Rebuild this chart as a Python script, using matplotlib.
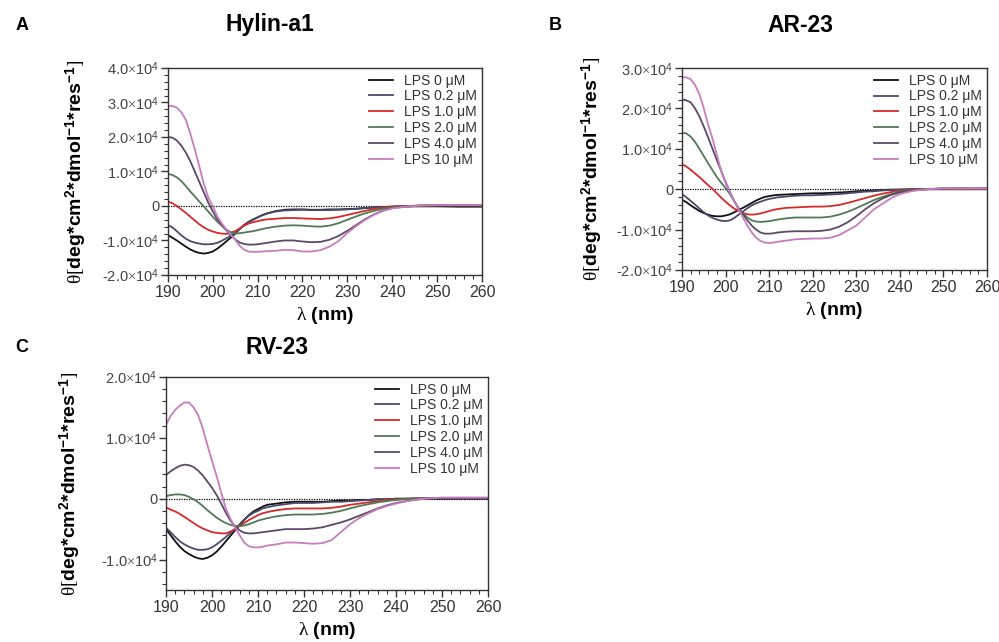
import numpy as np
import matplotlib
matplotlib.use('Agg')
from matplotlib import pyplot as plt
from matplotlib.ticker import MultipleLocator, FixedLocator

plt.rcParams['font.family'] = ['Liberation Sans', 'DejaVu Sans']
plt.rcParams['mathtext.fontset'] = 'custom'
plt.rcParams['mathtext.rm'] = 'Liberation Serif'
plt.rcParams['mathtext.it'] = 'Liberation Serif:italic'
plt.rcParams['mathtext.bf'] = 'Liberation Sans:bold'
plt.rcParams['mathtext.sf'] = 'Liberation Sans'

wl = [190, 191, 192, 193, 194, 195, 196, 197, 198, 199, 200, 201,
      202, 203, 204, 205, 206, 207, 208, 209, 210, 211, 212,
      214, 216, 218, 220, 222, 224, 226, 228, 230, 232, 234, 236, 238, 240,
      243, 246, 250, 255, 260]
labels = ['LPS 0 \u03bcM', 'LPS 0.2 \u03bcM', 'LPS 1.0 \u03bcM',
          'LPS 2.0 \u03bcM', 'LPS 4.0 \u03bcM', 'LPS 10 \u03bcM']
colors = ['#111111', '#4b4a6c', '#d42a2a', '#4f7a55', '#5a4a66', '#c77cc0']

# mean residue ellipticity, units of 1e4
hylin = [
    [-0.84, -0.92, -1.0, -1.09, -1.18, -1.26, -1.32, -1.36, -1.38, -1.36, -1.32, -1.24,
     -1.14, -1.03, -0.92, -0.8, -0.67, -0.55, -0.46, -0.39, -0.33, -0.27, -0.22,
     -0.15, -0.11, -0.1, -0.1, -0.11, -0.11, -0.1, -0.1, -0.09, -0.08, -0.06, -0.04, -0.03, -0.02,
     -0.01, -0.01, -0.01, -0.02, -0.02],
    [-0.55, -0.62, -0.73, -0.85, -0.95, -1.02, -1.06, -1.09, -1.11, -1.11, -1.1, -1.07,
     -1.01, -0.94, -0.86, -0.78, -0.67, -0.56, -0.47, -0.4, -0.33, -0.27, -0.22,
     -0.16, -0.13, -0.12, -0.11, -0.12, -0.12, -0.12, -0.11, -0.1, -0.08, -0.06, -0.04, -0.03, -0.02,
     -0.01, 0.0, 0.01, 0.01, 0.01],
    [0.13, 0.08, 0.0, -0.1, -0.2, -0.31, -0.42, -0.53, -0.62, -0.69, -0.74, -0.78,
     -0.8, -0.81, -0.78, -0.73, -0.65, -0.57, -0.51, -0.47, -0.44, -0.41, -0.39,
     -0.37, -0.35, -0.35, -0.36, -0.37, -0.38, -0.36, -0.32, -0.26, -0.2, -0.14, -0.09, -0.05, -0.02,
     0.0, 0.01, 0.02, 0.02, 0.02],
    [0.93, 0.9, 0.83, 0.72, 0.58, 0.42, 0.28, 0.13, -0.01, -0.16, -0.31, -0.45,
     -0.57, -0.68, -0.76, -0.8, -0.79, -0.77, -0.75, -0.73, -0.7, -0.67, -0.64,
     -0.6, -0.57, -0.56, -0.57, -0.59, -0.6, -0.57, -0.5, -0.4, -0.3, -0.21, -0.14, -0.08, -0.04,
     -0.01, 0.01, 0.02, 0.02, 0.02],
    [2.0, 1.98, 1.9, 1.75, 1.55, 1.3, 1.0, 0.7, 0.4, 0.1, -0.15, -0.38,
     -0.55, -0.7, -0.85, -0.97, -1.06, -1.1, -1.12, -1.12, -1.11, -1.09, -1.07,
     -1.03, -1.0, -1.0, -1.03, -1.05, -1.04, -0.98, -0.87, -0.72, -0.55, -0.38, -0.24, -0.13, -0.06,
     -0.02, 0.01, 0.02, 0.02, 0.02],
    [2.9, 2.9, 2.85, 2.72, 2.5, 2.1, 1.65, 1.15, 0.65, 0.25, 0.0, -0.3,
     -0.5, -0.68, -0.82, -0.98, -1.15, -1.27, -1.32, -1.33, -1.33, -1.32, -1.31,
     -1.3, -1.27, -1.28, -1.32, -1.32, -1.28, -1.18, -1.02, -0.78, -0.58, -0.4, -0.25, -0.14, -0.07,
     -0.02, 0.01, 0.03, 0.03, 0.03],
]

ar23 = [
    [-0.26, -0.32, -0.4, -0.47, -0.54, -0.59, -0.63, -0.66, -0.67, -0.67, -0.65, -0.62,
     -0.57, -0.51, -0.46, -0.4, -0.34, -0.28, -0.23, -0.19, -0.17, -0.15, -0.14,
     -0.13, -0.12, -0.11, -0.1, -0.1, -0.09, -0.08, -0.07, -0.05, -0.04, -0.03, -0.02, -0.01, -0.01,
     0.0, 0.0, 0.0, 0.0, 0.0],
    [-0.12, -0.2, -0.29, -0.38, -0.48, -0.57, -0.65, -0.71, -0.75, -0.78, -0.79, -0.77,
     -0.71, -0.63, -0.55, -0.47, -0.4, -0.35, -0.31, -0.27, -0.24, -0.22, -0.2,
     -0.18, -0.16, -0.15, -0.15, -0.14, -0.13, -0.12, -0.1, -0.08, -0.06, -0.05, -0.03, -0.02, -0.01,
     0.0, 0.01, 0.01, 0.01, 0.01],
    [0.62, 0.56, 0.48, 0.39, 0.3, 0.2, 0.1, 0.01, -0.1, -0.21, -0.31, -0.4,
     -0.48, -0.54, -0.59, -0.62, -0.63, -0.62, -0.6, -0.57, -0.54, -0.51, -0.49,
     -0.46, -0.45, -0.44, -0.43, -0.43, -0.42, -0.39, -0.34, -0.28, -0.22, -0.16, -0.11, -0.07, -0.04,
     -0.01, 0.0, 0.01, 0.01, 0.01],
    [1.4, 1.38, 1.3, 1.17, 1.0, 0.82, 0.64, 0.47, 0.3, 0.16, 0.03, -0.12,
     -0.3, -0.48, -0.6, -0.7, -0.77, -0.8, -0.81, -0.8, -0.79, -0.77, -0.75,
     -0.72, -0.7, -0.7, -0.7, -0.7, -0.68, -0.63, -0.56, -0.47, -0.37, -0.27, -0.19, -0.12, -0.06,
     -0.02, 0.0, 0.02, 0.02, 0.02],
    [2.22, 2.2, 2.15, 2.0, 1.8, 1.55, 1.28, 1.0, 0.72, 0.45, 0.18, -0.07,
     -0.3, -0.48, -0.62, -0.77, -0.9, -1.0, -1.07, -1.1, -1.1, -1.09, -1.07,
     -1.05, -1.04, -1.04, -1.04, -1.03, -1.0, -0.93, -0.82, -0.67, -0.5, -0.35, -0.23, -0.14, -0.08,
     -0.03, 0.0, 0.02, 0.02, 0.02],
    [2.77, 2.77, 2.72, 2.58, 2.35, 2.0, 1.6, 1.25, 0.85, 0.45, 0.15, -0.08,
     -0.3, -0.5, -0.7, -0.9, -1.07, -1.2, -1.28, -1.32, -1.33, -1.32, -1.3,
     -1.27, -1.24, -1.23, -1.22, -1.22, -1.2, -1.14, -1.02, -0.9, -0.7, -0.5, -0.36, -0.22, -0.12,
     -0.04, 0.0, 0.02, 0.02, 0.02],
]

rv23 = [
    [-0.5, -0.6, -0.7, -0.79, -0.86, -0.91, -0.95, -0.98, -0.99, -0.97, -0.93, -0.87,
     -0.79, -0.7, -0.61, -0.52, -0.43, -0.35, -0.27, -0.21, -0.17, -0.13, -0.1,
     -0.08, -0.06, -0.05, -0.05, -0.05, -0.05, -0.04, -0.03, -0.03, -0.02, -0.02, -0.01, -0.01, 0.0,
     0.0, 0.0, 0.0, 0.0, 0.0],
    [-0.48, -0.55, -0.63, -0.7, -0.75, -0.79, -0.82, -0.84, -0.84, -0.83, -0.8, -0.75,
     -0.69, -0.63, -0.56, -0.5, -0.42, -0.34, -0.28, -0.23, -0.2, -0.16, -0.14,
     -0.11, -0.09, -0.07, -0.07, -0.07, -0.06, -0.05, -0.05, -0.04, -0.03, -0.02, -0.01, -0.01, 0.0,
     0.0, 0.01, 0.01, 0.01, 0.01],
    [-0.14, -0.18, -0.21, -0.25, -0.3, -0.35, -0.4, -0.45, -0.49, -0.52, -0.55, -0.56,
     -0.57, -0.57, -0.54, -0.5, -0.45, -0.4, -0.35, -0.31, -0.27, -0.24, -0.22,
     -0.19, -0.17, -0.16, -0.16, -0.16, -0.16, -0.15, -0.13, -0.1, -0.08, -0.06, -0.04, -0.02, -0.01,
     0.0, 0.01, 0.01, 0.01, 0.01],
    [0.04, 0.06, 0.07, 0.07, 0.06, 0.03, -0.01, -0.06, -0.12, -0.19, -0.25, -0.31,
     -0.36, -0.4, -0.43, -0.45, -0.45, -0.44, -0.42, -0.39, -0.36, -0.34, -0.32,
     -0.29, -0.27, -0.26, -0.26, -0.26, -0.25, -0.23, -0.2, -0.16, -0.12, -0.09, -0.06, -0.04, -0.02,
     0.0, 0.01, 0.01, 0.01, 0.01],
    [0.39, 0.45, 0.5, 0.54, 0.56, 0.55, 0.52, 0.46, 0.38, 0.28, 0.18, 0.06,
     -0.08, -0.23, -0.36, -0.45, -0.52, -0.56, -0.57, -0.57, -0.56, -0.55, -0.54,
     -0.52, -0.5, -0.5, -0.5, -0.49, -0.47, -0.43, -0.39, -0.34, -0.28, -0.22, -0.16, -0.11, -0.07,
     -0.03, 0.0, 0.01, 0.01, 0.01],
    [1.22, 1.36, 1.46, 1.53, 1.58, 1.58, 1.5, 1.37, 1.15, 0.88, 0.62, 0.37,
     0.1, -0.16, -0.33, -0.47, -0.6, -0.72, -0.78, -0.8, -0.8, -0.79, -0.77,
     -0.75, -0.72, -0.72, -0.73, -0.74, -0.73, -0.68, -0.55, -0.42, -0.32, -0.24, -0.17, -0.12, -0.08,
     -0.03, 0.0, 0.02, 0.02, 0.02],
]

ylabel = ('$\\mathrm{\\theta[}$deg*cm$^{\\mathbf{2}}$*dmol$^{\\mathbf{-1}}$'
          '*res$^{\\mathbf{-1}}$$\\mathrm{]}$')


def tick_fmt(v):
    if v == 0:
        return '0'
    return '%.1f$\\times$10$^{\\mathsf{4}}$' % (v / 1e4)


def draw(ax, data, title, letter, yticks, ylim, ylabel_x, title_xy, letter_xy):
    x = np.array(wl)
    for i in range(len(data)):
        ax.plot(x, np.array(data[i]) * 1e4, color=colors[i], lw=1.3, label=labels[i])
    ax.axhline(0, color='k', lw=0.9, ls=(0, (1, 1)), zorder=0)
    ax.set_xlim(190, 260)
    ax.set_ylim(*ylim)
    ax.set_xticks(range(190, 261, 10))
    ax.xaxis.set_minor_locator(MultipleLocator(2))
    ax.yaxis.set_major_locator(FixedLocator(yticks))
    ax.yaxis.set_minor_locator(MultipleLocator(2000))
    ax.set_yticklabels([tick_fmt(v) for v in yticks])
    ax.tick_params(axis='both', which='major', length=5, width=1, colors='#333333')
    ax.tick_params(axis='both', which='minor', length=3, width=0.8, colors='#333333')
    ax.tick_params(axis='y', labelsize=10.5, pad=1, labelcolor='#444444')
    ax.tick_params(axis='x', labelsize=11.5, pad=2, labelcolor='#333333')
    for s in ax.spines.values():
        s.set_linewidth(1.0)
        s.set_color('#333333')
    ax.set_xlabel('$\\mathrm{\\lambda}$ (nm)', fontsize=14, fontweight='bold', labelpad=4)
    ax.set_ylabel(ylabel, fontsize=14, fontweight='bold')
    ax.yaxis.set_label_coords(ylabel_x, 0.5)
    leg = ax.legend(loc='upper right', frameon=False, fontsize=10, handlelength=1.75,
                    labelspacing=0.13, borderpad=0.25, borderaxespad=0.15, handletextpad=0.75)
    for t in leg.get_texts():
        t.set_color('#333333')
    fig.text(title_xy[0], title_xy[1], title, fontsize=16.5, fontweight='bold', ha='center', va='center')
    fig.text(letter_xy[0], letter_xy[1], letter, fontsize=13, fontweight='bold', ha='center', va='center')


fig = plt.figure(figsize=(9.99, 6.42), dpi=100)
axA = fig.add_axes([0.168, 0.5717, 0.3145, 0.3224])
axB = fig.add_axes([0.6827, 0.5794, 0.3053, 0.3146])
axC = fig.add_axes([0.1662, 0.081, 0.3223, 0.3318])

draw(axA, hylin, 'Hylin-a1', 'A', [-2e4, -1e4, 0, 1e4, 2e4, 3e4, 4e4], (-2e4, 4e4),
     -0.252, (270 / 999, 1 - 25 / 642), (22 / 999, 1 - 25 / 642))
draw(axB, ar23, 'AR-23', 'B', [-2e4, -1e4, 0, 1e4, 2e4, 3e4], (-2e4, 3e4),
     -0.254, (800 / 999, 1 - 25 / 642), (555 / 999, 1 - 25 / 642))
draw(axC, rv23, 'RV-23', 'C', [-1e4, 0, 1e4, 2e4], (-1.5e4, 2e4),
     -0.257, (277 / 999, 1 - 347 / 642), (22 / 999, 1 - 347 / 642))

fig.savefig('out.png', dpi=100)
